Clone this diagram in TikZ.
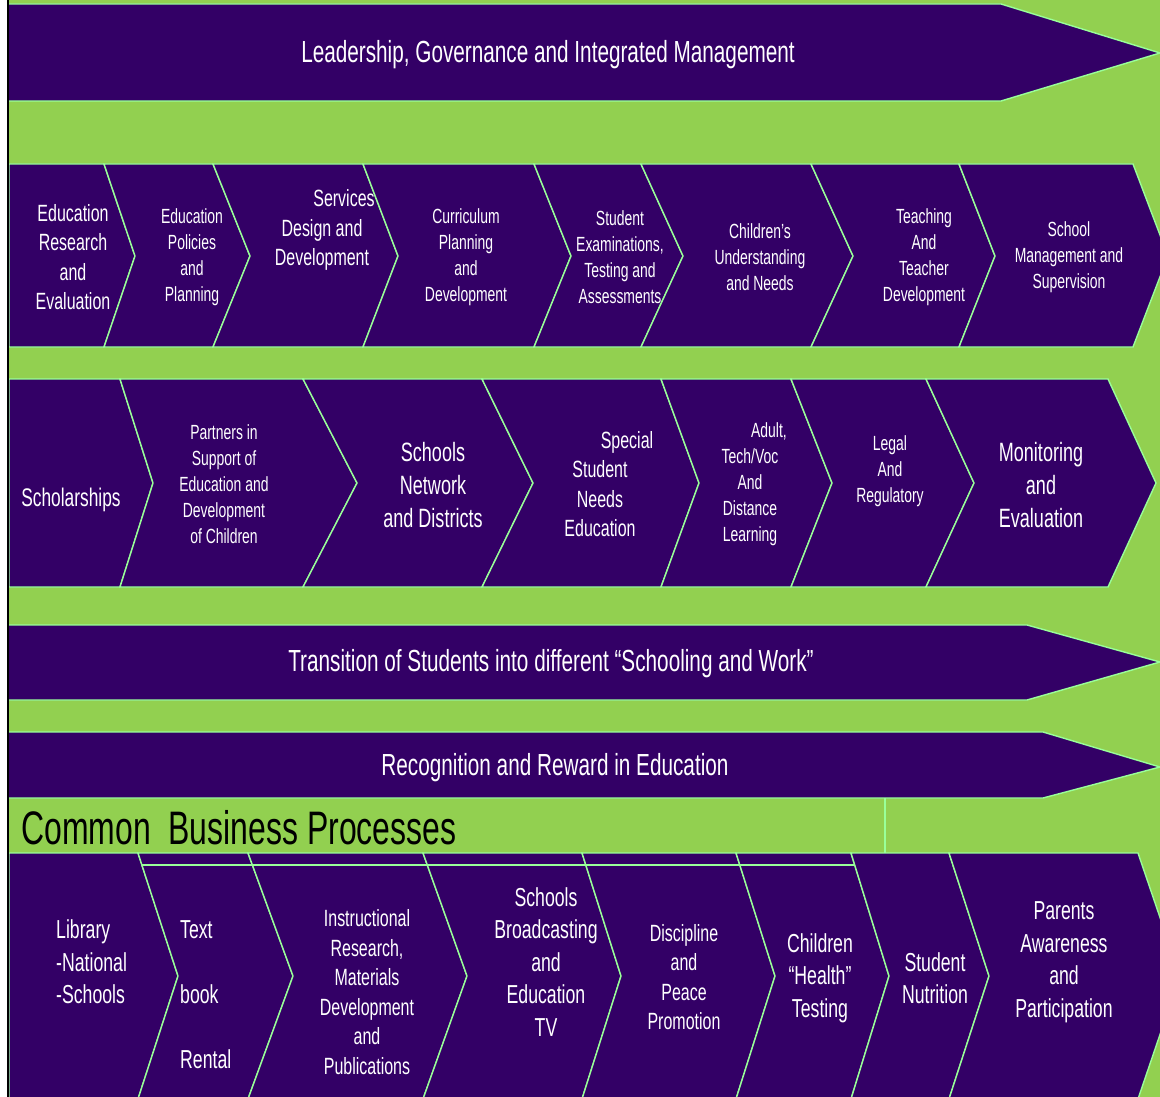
\documentclass[tikz,border=0pt]{standalone}
\usepackage{fontspec}
\setmainfont{Liberation Sans}[FakeStretch=0.68]
\definecolor{purp}{HTML}{330066}
\definecolor{leaf}{HTML}{92D050}
\definecolor{edge}{HTML}{99FF99}

\begin{document}
\begin{tikzpicture}[x=1pt,y=-1pt]
    \tikzstyle{chev}=[fill=purp, draw=edge, line width=1.4pt]
    \tikzstyle{lbl}=[text=white, align=center, inner sep=0pt]
    \tikzstyle{txtsmall}=[lbl, font=\fontsize{20.5}{26}\selectfont]
    \tikzstyle{txtmed}=[lbl, font=\fontsize{23.5}{29.5}\selectfont]
    \tikzstyle{txtbig}=[lbl, font=\fontsize{26}{32.5}\selectfont]
    \tikzstyle{txtband}=[lbl, font=\fontsize{30.5}{34}\selectfont]

    \useasboundingbox (0,0) rectangle (1160,1097);
    \fill[white] (0,0) rectangle (9,1097);
    \fill[leaf] (9,0) rectangle (1160,1097);

    % long bands
    \draw[chev] (9,4) -- (1001,4) -- (1160,53) -- (1001,101) -- (9,101);
    \draw[chev] (9,625) -- (1027,625) -- (1160,662) -- (1027,700) -- (9,700);
    \draw[chev] (9,732) -- (1043,732) -- (1160,767) -- (1043,798) -- (9,798);

    % chevron rows
    \foreach \a/\p/\b/\q in {9/9/104/135, 104/135/213/250, 213/250/363/398, 363/398/534/571,
        534/571/641/683, 641/683/811/853, 811/853/959/995, 959/995/1133/1168}
        \draw[chev] (\a,164) -- (\b,164) -- (\q,256) -- (\b,347) -- (\a,347) -- (\p,256) -- cycle;
    \foreach \a/\p/\b/\q in {9/9/120/153, 120/153/303/357, 303/357/482/533, 482/533/661/699,
        661/699/791/832, 791/832/926/974, 926/974/1108/1156}
        \draw[chev] (\a,379) -- (\b,379) -- (\q,483) -- (\b,587) -- (\a,587) -- (\p,483) -- cycle;
    \foreach \a/\p/\b/\q in {9/9/138/178, 138/178/248/293, 248/293/423/467, 423/467/582/621,
        582/621/736/775, 736/775/851/889, 851/889/949/989, 949/989/1138/1180}
        \draw[chev] (\a,853) -- (\b,853) -- (\q,976) -- (\b,1099) -- (\a,1099) -- (\p,976) -- cycle;
    \draw[edge, line width=1.4pt] (142,865) -- (855,865);
    \draw[edge, line width=1.4pt] (885,798) -- (885,853);

    \draw[line width=2pt] (8,0) -- (8,1097);

    % band texts
    \node[txtband] (lead) at (548,55) {Leadership, Governance and Integrated Management};
    \node[txtband] (trans) at (551,664) {Transition of Students into different “Schooling and Work”};
    \node[txtband] (recog) at (555,768) {Recognition and Reward in Education};
    \node[inner sep=0pt, anchor=west, font=\fontsize{47}{50}\selectfont] (common) at (21,828) {Common~ Business Processes};

    % second row
    \node[txtmed] (research) at (73,257) {Education\\Research\\and\\Evaluation};
    \node[txtsmall] (policies) at (192,257) {Education\\Policies\\and\\Planning};
    \node[txtmed] (services) at (322,230) {\hspace*{44pt}Services\\Design and\\Development};
    \node[txtsmall] (curriculum) at (466,257) {Curriculum\\Planning\\and\\Development};
    \node[txtsmall] (exams) at (620,257) {Student\\Examinations,\\Testing and\\Assessments};
    \node[txtsmall] (needs) at (760,257) {Children’s\\Understanding\\and Needs};
    \node[txtsmall] (teaching) at (924,257) {Teaching\\And\\Teacher\\Development};
    \node[txtsmall] (supervision) at (1069,257) {School\\Management and\\Supervision};

    % third row
    \node[lbl, font=\fontsize{25.5}{30}\selectfont] (scholar) at (71,500) {Scholarships};
    \node[txtsmall] (partners) at (224,484) {Partners in\\Support of\\Education and\\Development\\of Children};
    \node[lbl, font=\fontsize{26.5}{33}\selectfont] (network) at (433,485) {Schools\\Network\\and Districts};
    \node[txtmed] (special) at (600,484) {\hspace*{54pt}Special\\Student\\Needs\\Education};
    \node[txtsmall] (adult) at (750,484) {\hspace*{38pt}Adult,\\Tech/Voc\\And\\Distance\\Learning};
    \node[txtsmall] (legal) at (890,471) {Legal\\And\\Regulatory};
    \node[lbl, font=\fontsize{26.5}{33}\selectfont] (monitor) at (1041,485) {Monitoring\\and\\Evaluation};

    % common business processes
    \node[txtbig, align=left, anchor=west] (library) at (56,962) {Library\\ -National\\-Schools};
    \node[txtbig, align=left, anchor=west] (textbook) at (180,995) {Text\\~\\book\\~\\Rental};
    \node[txtmed] (instruct) at (367,992) {Instructional\\Research,\\Materials\\Development\\and\\Publications};
    \node[txtbig] (broadcast) at (546,962) {Schools\\Broadcasting\\and\\Education\\TV};
    \node[txtmed] (discipline) at (684,977) {Discipline\\and\\Peace\\Promotion};
    \node[txtbig] (health) at (820,978) {Children\\“Health”\\Testing};
    \node[txtbig] (nutrition) at (935,978) {Student\\Nutrition};
    \node[txtbig] (parents) at (1064,962) {Parents\\Awareness\\and\\Participation};
\end{tikzpicture}
\end{document}
